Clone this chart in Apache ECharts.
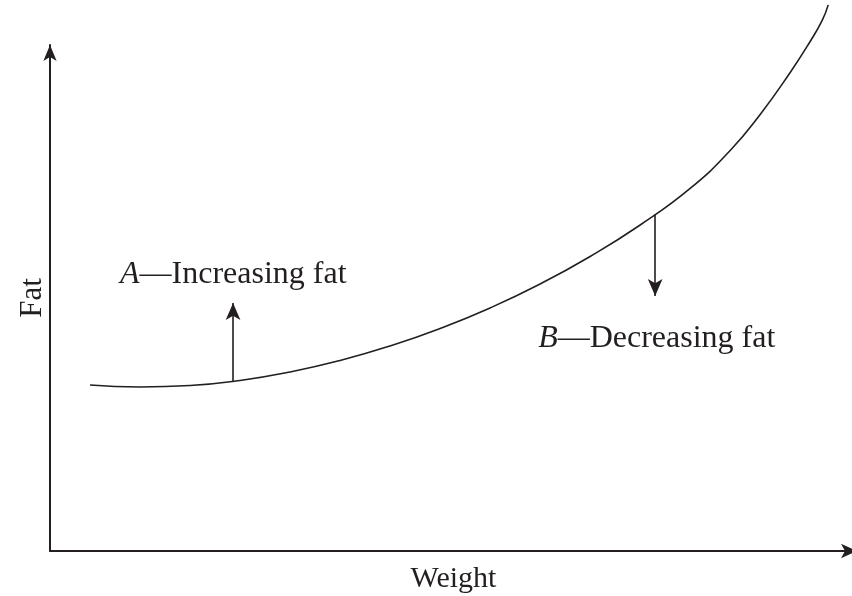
<!DOCTYPE html>
<html>
<head>
<meta charset="utf-8">
<script src="https://cdn.jsdelivr.net/npm/echarts@6/dist/echarts.min.js"></script>
<style>html,body{margin:0;padding:0;background:#fff}#c{width:852px;height:596px}</style>
</head>
<body>
<div id="c"></div>
<script>
// Curve: weight (x) vs fat (y), arbitrary units
const curveX = [4.99, 11.22, 17.46, 23.69, 29.93, 36.16, 42.39, 48.63, 54.86, 61.10, 67.33, 73.57, 79.80, 84.79, 88.53, 92.27, 94.76, 96.26, 97.01];
const curveY = [33.33, 32.93, 33.23, 34.24, 35.94, 38.25, 41.16, 44.68, 48.80, 53.61, 59.14, 65.46, 72.79, 80.42, 87.65, 96.08, 102.31, 106.53, 109.66];
// Arrows: [x, yStart, yEnd]
const arrowA = [22.82, 34.10, 49.80];
const arrowB = [75.44, 67.60, 51.20];
// Labels: [x, y]
const labelA = [8.73, 55.42];
const labelB = [60.85, 42.57];
const xTitle = 'Weight';
const yTitle = 'Fat';

const ink = '#231f20';
const font = 'Liberation Serif';

const chart = echarts.init(document.getElementById('c'));
chart.setOption({
  animation: false,
  backgroundColor: '#fff',
  grid: { left: 50, right: -5, top: 45, bottom: 45, outerBoundsMode: 'none', containLabel: false },
  xAxis: {
    type: 'value', min: 0, max: 100.6,
    name: xTitle, nameLocation: 'middle', nameGap: 13,
    nameTextStyle: { fontFamily: font, fontSize: 30, color: ink, verticalAlign: 'top' },
    axisLine: { show: true, symbol: ['none', 'arrow'], symbolSize: [11, 16], lineStyle: { color: ink, width: 2 } },
    axisTick: { show: false }, axisLabel: { show: false }, splitLine: { show: false }
  },
  yAxis: {
    type: 'value', min: 0, max: 101.6,
    name: yTitle, nameLocation: 'middle', nameGap: 2, nameRotate: 90,
    nameTextStyle: { fontFamily: font, fontSize: 31, color: ink },
    axisLine: { show: true, symbol: ['none', 'arrow'], symbolSize: [10, 16], lineStyle: { color: ink, width: 2 } },
    axisTick: { show: false }, axisLabel: { show: false }, splitLine: { show: false }
  },
  series: [
    {
      type: 'line', smooth: 0.5, clip: false, showSymbol: false, symbol: 'none',
      data: curveX.map((x, i) => [x, curveY[i]]),
      lineStyle: { color: ink, width: 1.6 }
    },
    {
      type: 'lines', coordinateSystem: 'cartesian2d', clip: false,
      symbol: ['none', 'arrow'], symbolSize: [1, [11, 17]],
      lineStyle: { color: ink, width: 1.6, opacity: 1 },
      itemStyle: { color: ink },
      data: [
        { coords: [[arrowA[0], arrowA[1]], [arrowA[0], arrowA[2]]] },
        { coords: [[arrowB[0], arrowB[1]], [arrowB[0], arrowB[2]]] }
      ]
    },
    {
      type: 'scatter', symbolSize: 0, clip: false,
      itemStyle: { opacity: 1 },
      label: {
        show: true, position: 'right', distance: 0,
        fontFamily: font, fontSize: 32, color: ink, opacity: 1,
        formatter: p => '{i|' + p.data.k + '}—' + p.data.t,
        rich: { i: { fontFamily: font, fontSize: 32, fontStyle: 'italic', color: ink } }
      },
      data: [
        { value: labelA, k: 'A', t: 'Increasing fat' },
        { value: labelB, k: 'B', t: 'Decreasing fat' }
      ]
    }
  ]
});
</script>
</body>
</html>
